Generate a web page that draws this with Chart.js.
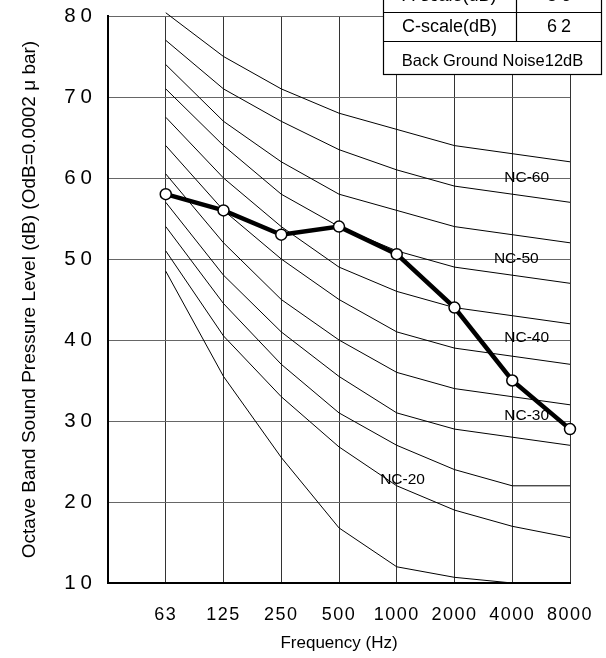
<!DOCTYPE html>
<html>
<head>
<meta charset="utf-8">
<script src="https://cdn.jsdelivr.net/npm/chart.js@4"></script>
<style>
  html, body { margin: 0; padding: 0; background: #fff; overflow: hidden; }
  #wrap { width: 606px; height: 658px; }
</style>
</head>
<body>
<div id="wrap"><canvas id="ncChart"></canvas></div>
<script>
// NC curve chart with measured octave band levels

const freqLabels = ["", "63", "125", "250", "500", "1000", "2000", "4000", "8000"];
const measured = [58, 56, 53, 54, 50.6, 44, 35, 29];

const nc15 = [48.5, 35.5, 25.5, 16.8, 12, 10.7, 10, 9];
const nc20 = [51, 40.5, 33, 26.8, 22, 19, 17, 15.6];
const nc25 = [54, 44.5, 37, 31, 27, 24, 22, 22];
const nc30 = [57, 48, 41, 35.5, 31, 29, 28, 27];
const nc35 = [60.5, 52, 45, 40, 36, 34, 33, 32];
const nc40 = [64, 56, 50, 45, 41, 39, 38, 37];
const nc45 = [67.5, 60, 54, 49, 46, 44, 43, 42];
const nc50 = [71, 64, 58, 54, 51, 49, 48, 47];
const nc55 = [74, 67, 62, 58, 56, 54, 53, 52];
const nc60 = [77, 71, 67, 63.5, 61, 59, 58, 57];
const nc65 = [80.4, 75, 71, 68, 66, 64, 63, 62];

const ncCurves = [nc15, nc20, nc25, nc30, nc35, nc40, nc45, nc50, nc55, nc60, nc65];

// labels on some curves: [text, category position, level]
const ncLabels = [
  ["NC-60", 7.25, 60],
  ["NC-50", 7.07, 50],
  ["NC-40", 7.25, 40.3],
  ["NC-30", 7.25, 30.7],
  ["NC-20", 5.1, 22.7],
];

const tableRows = [
  ["A-scale(dB)", "56"],
  ["C-scale(dB)", "62"],
  ["Back Ground Noise12dB"],
];

const FONT = "'Liberation Sans', Arial, Helvetica, sans-serif";

let datasets = [
  {
    label: "Measured",
    data: [null].concat(measured),
    borderColor: "#000",
    borderWidth: 4.5,
    pointRadius: 5.5,
    pointBackgroundColor: "#fff",
    pointBorderColor: "#000",
    pointBorderWidth: 1.5,
    tension: 0,
  },
];
ncCurves.forEach((c, i) => {
  datasets.push({
    label: "NC-" + (15 + i * 5),
    data: [null].concat(c),
    borderColor: "#000",
    borderWidth: 1,
    pointRadius: 0,
    tension: 0,
    clip: c === nc65 ? false : 0,
  });
});

// spaced-out digits on the tick labels
function spaceLabels(scale, spacing) {
  if (scale._spaced) return;
  const orig = scale.drawLabels;
  scale.drawLabels = function (area) {
    const ctx = this.ctx;
    ctx.save();
    ctx.letterSpacing = spacing;
    orig.call(this, area);
    ctx.restore();
  };
  scale._spaced = true;
}

const overlay = {
  id: "overlay",
  beforeDraw(chart) {
    spaceLabels(chart.scales.x, "1.5px");
    spaceLabels(chart.scales.y, "5px");
  },
  afterDatasetsDraw(chart) {
    const ctx = chart.ctx;
    const xs = chart.scales.x, ys = chart.scales.y;
    ctx.save();
    ctx.fillStyle = "#000";
    ctx.font = "15.5px " + FONT;
    ctx.textAlign = "center";
    ctx.textBaseline = "middle";
    ncLabels.forEach(l => {
      ctx.fillText(l[0], xs.getPixelForValue(l[1]), ys.getPixelForValue(l[2]));
    });
    ctx.restore();
  },
  afterDraw(chart) {
    const ctx = chart.ctx;
    ctx.save();
    const left = 383, mid = 516, right = 602;
    const rowTops = [-20, 12, 41, 75];
    ctx.fillStyle = "#fff";
    ctx.fillRect(left, rowTops[0], right - left, rowTops[3] - rowTops[0]);
    ctx.strokeStyle = "#000";
    ctx.lineWidth = 1.2;
    ctx.strokeRect(left + 0.5, rowTops[0], right - left - 1, rowTops[3] - rowTops[0] - 0.5);
    ctx.beginPath();
    ctx.moveTo(left, rowTops[1] + 0.5); ctx.lineTo(right, rowTops[1] + 0.5);
    ctx.moveTo(left, rowTops[2] + 0.5); ctx.lineTo(right, rowTops[2] + 0.5);
    ctx.moveTo(mid + 0.5, rowTops[0]); ctx.lineTo(mid + 0.5, rowTops[2]);
    ctx.stroke();
    ctx.fillStyle = "#000";
    ctx.textAlign = "center";
    ctx.textBaseline = "middle";
    tableRows.forEach((r, i) => {
      let cy = (rowTops[i] + rowTops[i + 1]) / 2 + 1;
      if (i === 0) cy = -4;
      if (r.length === 2) {
        ctx.font = "18px " + FONT;
        ctx.fillText(r[0], (left + mid) / 2, cy);
        ctx.letterSpacing = "4px";
        ctx.fillText(r[1], (mid + right) / 2 + 2, cy);
        ctx.letterSpacing = "0px";
      } else {
        ctx.font = "16.5px " + FONT;
        ctx.fillText(r[0], (left + right) / 2, cy + 2);
      }
    });
    ctx.restore();
  },
};

let ncChart = new Chart(document.getElementById("ncChart"), {
  type: "line",
  data: { labels: freqLabels, datasets: datasets },
  options: {
    responsive: true,
    maintainAspectRatio: false,
    animation: false,
    layout: { padding: { top: 16, right: 36, left: 0, bottom: 0 } },
    plugins: { legend: { display: false }, tooltip: { enabled: false } },
    scales: {
      x: {
        offset: false,
        grid: { color: "#333", lineWidth: 1, drawTicks: false },
        border: { color: "#000", width: 2 },
        ticks: { color: "#000", font: { size: 18, family: FONT }, padding: 21, maxRotation: 0, autoSkip: false },
        title: { display: true, text: "Frequency (Hz)", color: "#000", font: { size: 17, family: FONT }, padding: { top: 10 } },
        afterFit(scale) {
          scale.height = 75;
          scale.paddingLeft = 0;
          scale.paddingRight = 0;
        },
      },
      y: {
        min: 10,
        max: 80,
        grid: { color: "#666", lineWidth: 1, drawTicks: false },
        border: { color: "#000", width: 2 },
        ticks: { stepSize: 10, color: "#000", font: { size: 20.5, family: FONT }, padding: 11 },
        title: { display: true, text: "Octave Band Sound Pressure Level (dB) (OdB=0.0002 μ bar)", color: "#000", font: { size: 19, family: FONT }, padding: { top: 18 } },
        afterFit(scale) {
          scale.width = 108;
          scale.paddingTop = 0;
          scale.paddingBottom = 0;
        },
      },
    },
  },
  plugins: [overlay],
});
</script>
</body>
</html>
